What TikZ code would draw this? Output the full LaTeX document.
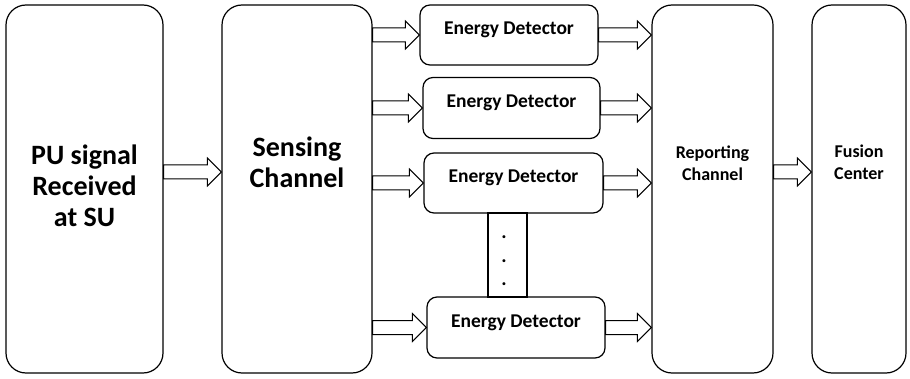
\documentclass[tikz,border=0pt]{standalone}
\usepackage{fontspec}
\setmainfont{Carlito}
\usetikzlibrary{calc,positioning}
\newcommand{\fatarrow}[2]{%
  \draw[line width=1pt, fill=white, line join=miter]
    ($(#1)+(0,-7)$) -- ($(#2)+(-14,-7)$) -- ($(#2)+(-14,-14)$) -- (#2)
    -- ($(#2)+(-14,14)$) -- ($(#2)+(-14,7)$) -- ($(#1)+(0,7)$) -- cycle;}

\begin{document}
\begin{tikzpicture}[x=1pt, y=-1pt,
    bigbox/.style={draw, line width=1.2pt, rounded corners=20pt, minimum height=368pt, inner sep=0pt},
    edbox/.style={draw, line width=1.2pt, rounded corners=10pt, minimum width=178pt, minimum height=60pt, inner sep=0pt},
    biglbl/.style={font=\fontsize{28}{31}\selectfont\bfseries, align=center, inner sep=0pt},
    midlbl/.style={font=\fontsize{18}{22}\selectfont\bfseries, align=center, inner sep=0pt},
    edlbl/.style={font=\fontsize{19.5}{22}\selectfont\bfseries, inner sep=0pt, anchor=base}]
    \useasboundingbox (0,0) rectangle (910,379);

    % main blocks
    \node[bigbox, minimum width=157pt] (pu) at (84.5,189) {};
    \node[bigbox, minimum width=150pt] (sens) at (297,189) {};
    \node[bigbox, minimum width=121pt] (rep) at (712.5,189) {};
    \node[bigbox, minimum width=94pt] (fus) at (859,189) {};
    \node[biglbl] (put) at (84.5,186) {PU signal\\Received\\at SU};
    \node[biglbl] (senst) at (297,162) {Sensing\\Channel};
    \node[midlbl] (rept) at (712.5,163.5) {Reporting\\Channel};
    \node[midlbl] (fust) at (859,162.5) {Fusion\\Center};

    % detectors
    \node[edbox] (ed1) at (509,35) {};
    \node[edbox, minimum width=177pt, minimum height=61pt] (ed2) at (511.5,108) {};
    \node[edbox, minimum width=179pt] (ed3) at (513.5,183) {};
    \node[edbox, minimum height=61pt] (ed4) at (516,327.5) {};
    \foreach \n in {1,...,4}
      \node[edlbl] (ed\n t) at (ed\n.center) {Energy Detector};

    \node[draw, line width=1.2pt, minimum width=39pt, minimum height=84pt, inner sep=0pt] (bar) at (507.5,255) {};
    \node[font=\fontsize{20}{23.5}\selectfont\bfseries, align=center, inner sep=0pt] (dots) at (504,261) {.\\.\\.};

    % arrows
    \fatarrow{$(pu.east)+(0,-17)$}{$(sens.west)+(0,-17)$}
    \foreach \n in {1,...,4} {
      \fatarrow{sens.east |- ed\n.west}{ed\n.west}
      \fatarrow{ed\n.east}{rep.west |- ed\n.east}
    }
    \fatarrow{$(rep.east)+(0,-17)$}{$(fus.west)+(0,-17)$}
  \end{tikzpicture}
\end{document}
